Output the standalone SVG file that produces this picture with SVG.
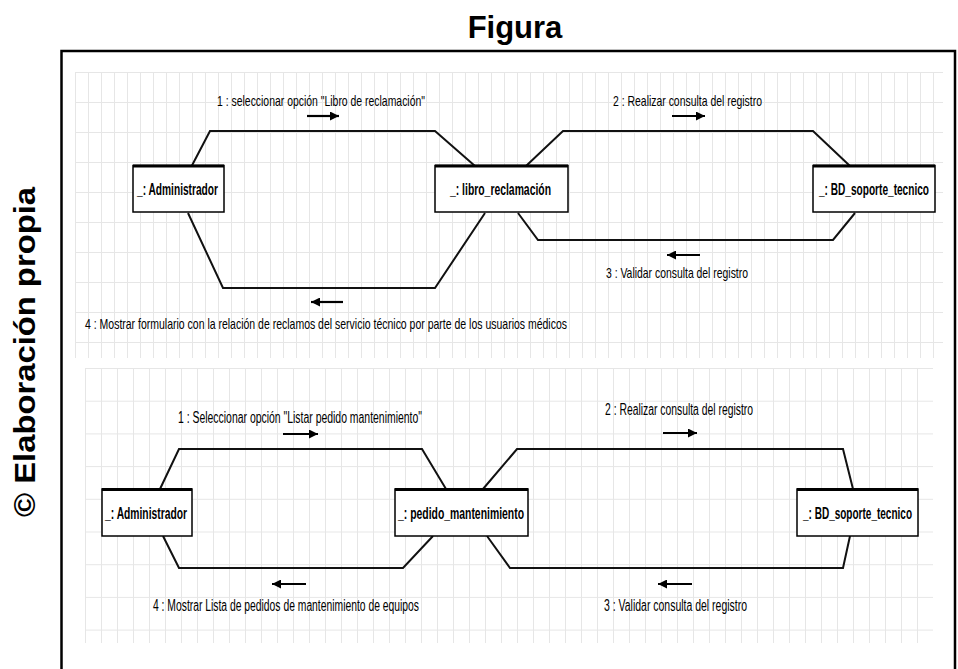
<svg xmlns="http://www.w3.org/2000/svg" width="958" height="669" viewBox="0 0 958 669">
<defs>
<pattern id="gridA" x="75" y="72" width="13" height="30" patternUnits="userSpaceOnUse">
<path d="M0.5,0 V30 M0,0.5 H13" fill="none" stroke="#e6e6e6" stroke-width="1"/>
</pattern>
<pattern id="gridB" x="85" y="368" width="16" height="32.7" patternUnits="userSpaceOnUse">
<path d="M0.5,0 V32.7 M0,0.5 H16" fill="none" stroke="#e6e6e6" stroke-width="1"/>
</pattern>
<marker id="ah" viewBox="0 0 10 10" refX="10" refY="5" markerWidth="9" markerHeight="9" markerUnits="userSpaceOnUse" orient="auto">
<path d="M0,0 L10,5 L0,10 z" fill="#000"/>
</marker>
</defs>
<style>
.t{font-family:"Liberation Sans Narrow","Liberation Sans",Arial,sans-serif;fill:#000}
.msg{font-size:15px}
.msg2{font-size:16px}
.nl{font-size:16px;font-weight:bold}
.nl2{font-size:17px;font-weight:bold}
.box{fill:#fff;stroke:#000;stroke-width:1.5}
.boxtop{stroke:#000;stroke-width:3}
.link{fill:none;stroke:#111;stroke-width:2;stroke-linejoin:miter}
.arr{stroke:#000;stroke-width:2.2;marker-end:url(#ah)}
.ttl{font-family:"Liberation Sans",Arial,sans-serif;font-weight:bold;fill:#000}
</style>
<rect width="958" height="669" fill="#fff"/>
<text class="ttl" x="515" y="38" font-size="31" text-anchor="middle">Figura</text>
<text class="ttl" font-size="29" transform="translate(35,352) rotate(-90)" text-anchor="middle" textLength="330" lengthAdjust="spacingAndGlyphs">© Elaboración propia</text>
<path d="M61.5,669 V51 H955 V669" fill="none" stroke="#000" stroke-width="2.5"/>
<rect x="75" y="72" width="868" height="286" fill="url(#gridA)"/>
<rect x="85" y="368" width="848" height="275" fill="url(#gridB)"/>
<g id="connectors">
<path class="link" d="M191.7,166 L210,131 L435,131 L475,166"/>
<path class="link" d="M188,213 L223,288 L435,288 L485,213"/>
<path class="link" d="M526,166 L563,131 L813,131 L850,166"/>
<path class="link" d="M518,213 L538,240 L833,240 L855,213"/>
<path class="link" d="M160,489 L179,449 L422,449 L446,489"/>
<path class="link" d="M163,536 L179,568 L403,568 L433,536"/>
<path class="link" d="M483,489 L517,449 L843,449 L853,489"/>
<path class="link" d="M487,536 L510,568 L843,568 L850,536"/>
<line class="arr" x1="307" y1="116" x2="339" y2="116"/>
<line class="arr" x1="672" y1="116" x2="705" y2="116"/>
<line class="arr" x1="700" y1="255" x2="667" y2="255"/>
<line class="arr" x1="343" y1="302" x2="311" y2="302"/>
<line class="arr" x1="283" y1="434" x2="318" y2="434"/>
<line class="arr" x1="663" y1="433" x2="697" y2="433"/>
<line class="arr" x1="692" y1="584" x2="658" y2="584"/>
<line class="arr" x1="306" y1="584" x2="272" y2="584"/>
<text class="t msg" x="217" y="106" textLength="208" lengthAdjust="spacingAndGlyphs">1 : seleccionar opción "Libro de reclamación"</text>
<text class="t msg" x="613" y="106" textLength="149" lengthAdjust="spacingAndGlyphs">2 : Realizar consulta del registro</text>
<text class="t msg" x="606" y="278" textLength="142" lengthAdjust="spacingAndGlyphs">3 : Validar consulta del registro</text>
<text class="t msg" x="85" y="329" textLength="482" lengthAdjust="spacingAndGlyphs">4 : Mostrar formulario con la relación de reclamos del servicio técnico por parte de los usuarios médicos</text>
<text class="t msg2" x="178" y="423" textLength="244" lengthAdjust="spacingAndGlyphs">1 : Seleccionar opción "Listar pedido mantenimiento"</text>
<text class="t msg2" x="605" y="415" textLength="148" lengthAdjust="spacingAndGlyphs">2 : Realizar consulta del registro</text>
<text class="t msg2" x="604" y="611" textLength="143" lengthAdjust="spacingAndGlyphs">3 : Validar consulta del registro</text>
<text class="t msg2" x="153" y="611" textLength="266" lengthAdjust="spacingAndGlyphs">4 : Mostrar Lista de pedidos de mantenimiento de equipos</text>
</g>
<g id="admin1">
<rect class="box" x="133" y="165.5" width="91" height="46.5"/>
<line class="boxtop" x1="133" y1="166" x2="224" y2="166"/>
<text class="t nl" x="137" y="195" textLength="81" lengthAdjust="spacingAndGlyphs">_: Administrador</text>
</g>
<g id="libro">
<rect class="box" x="435" y="165.5" width="133" height="46.5"/>
<line class="boxtop" x1="435" y1="166" x2="568" y2="166"/>
<text class="t nl" x="450" y="195" textLength="101" lengthAdjust="spacingAndGlyphs">_: libro_reclamación</text>
</g>
<g id="bd1">
<rect class="box" x="813" y="165.5" width="122" height="46.5"/>
<line class="boxtop" x1="813" y1="166" x2="935" y2="166"/>
<text class="t nl" x="929" y="195" text-anchor="end" textLength="110" lengthAdjust="spacingAndGlyphs">_: BD_soporte_tecnico</text>
</g>
<g id="admin2">
<rect class="box" x="102" y="489" width="90" height="47"/>
<line class="boxtop" x1="102" y1="489.5" x2="192" y2="489.5"/>
<text class="t nl2" x="105" y="519" textLength="82" lengthAdjust="spacingAndGlyphs">_: Administrador</text>
</g>
<g id="pedido">
<rect class="box" x="395" y="489" width="133" height="47"/>
<line class="boxtop" x1="395" y1="489.5" x2="528" y2="489.5"/>
<text class="t nl2" x="398" y="519" textLength="126" lengthAdjust="spacingAndGlyphs">_: pedido_mantenimiento</text>
</g>
<g id="bd2">
<rect class="box" x="797" y="489" width="121" height="47"/>
<line class="boxtop" x1="797" y1="489.5" x2="918" y2="489.5"/>
<text class="t nl2" x="912" y="519" text-anchor="end" textLength="109" lengthAdjust="spacingAndGlyphs">_: BD_soporte_tecnico</text>
</g>
</svg>
